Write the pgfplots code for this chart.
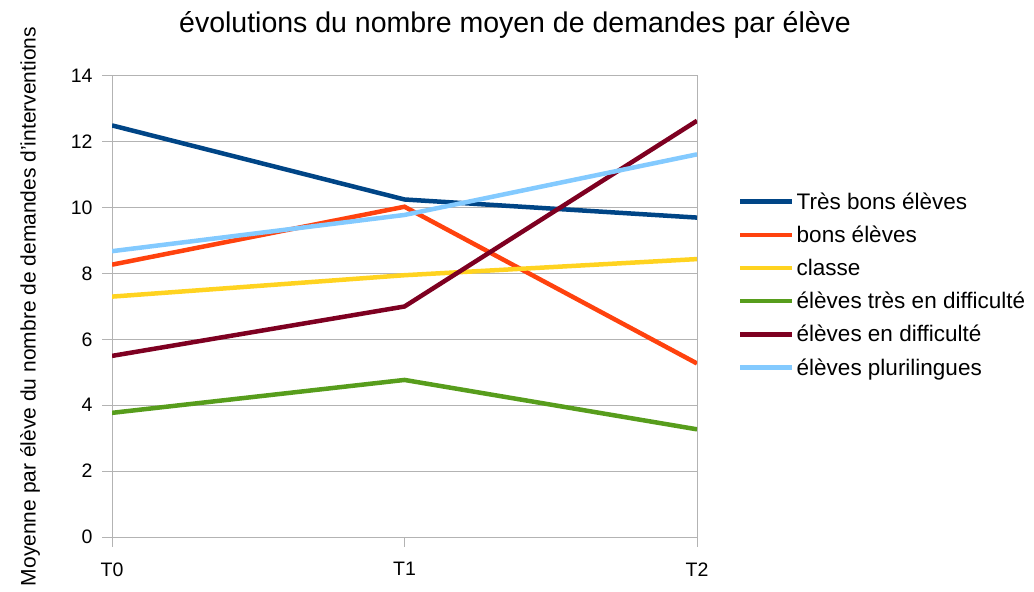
\documentclass[border=0pt]{standalone}
\usepackage{pgfplots}
\pgfplotsset{compat=1.18}
\usepackage{fontspec}
\setmainfont{Liberation Sans}
\definecolor{cblue}{HTML}{004586}
\definecolor{corange}{HTML}{FF420E}
\definecolor{cyellow}{HTML}{FFD320}
\definecolor{cgreen}{HTML}{579D1C}
\definecolor{cred}{HTML}{7E0021}
\definecolor{clight}{HTML}{83CAFF}
\definecolor{gridgray}{HTML}{B3B3B3}
\begin{document}
\begin{tikzpicture}[x=1pt,y=1pt]
\path[use as bounding box] (0,0) rectangle (1034,592);
\begin{axis}[
  at={(112pt,55pt)}, anchor=south west,
  scale only axis, width=585pt, height=461pt,
  xmin=0, xmax=2, ymin=0, ymax=14,
  xtick={0,1,2}, xticklabels={T0,T1,T2},
  ytick={0,2,...,14},
  ymajorgrids,
  grid style={color=gridgray, line width=1pt},
  axis line style={gridgray, line width=1pt},
  tick style={gridgray, line width=1pt},
  tick align=outside, major tick length=10pt,
  xtick pos=bottom, ytick pos=left,
  ticklabel style={font=\fontsize{19.5}{19.5}\selectfont, text=black},
  yticklabel style={xshift=-6pt},
  xticklabel style={yshift=-12pt},
  /pgf/number format/assume math mode=true,
  title={évolutions du nombre moyen de demandes par élève},
  title style={at={(0.689,1)}, anchor=south, yshift=28pt, font=\fontsize{28.5}{28.5}\selectfont},
  ylabel={Moyenne par élève du nombre de demandes d'interventions},
  ylabel style={at={(axis description cs:-0.140,0.5)}, anchor=center, font=\fontsize{21}{21}\selectfont},
  legend style={at={(1.065,0.7565)}, anchor=north west, draw=none, fill=none,
    font=\fontsize{22.5}{22.5}\selectfont, row sep=11.2pt},
  legend cell align=left,
  legend image code/.code={\draw[#1] (0pt,0pt) -- (52pt,0pt);},
  every axis plot/.append style={line width=4.5pt},
]
\addplot[cblue] coordinates {(0,12.5) (1,10.25) (2,9.7)};
\addlegendentry{Très bons élèves}
\addplot[corange] coordinates {(0,8.27) (1,10.03) (2,5.27)};
\addlegendentry{bons élèves}
\addplot[cyellow] coordinates {(0,7.3) (1,7.95) (2,8.44)};
\addlegendentry{classe}
\addplot[cgreen] coordinates {(0,3.77) (1,4.77) (2,3.27)};
\addlegendentry{élèves très en difficulté}
\addplot[cred] coordinates {(0,5.5) (1,7.0) (2,12.64)};
\addlegendentry{élèves en difficulté}
\addplot[clight] coordinates {(0,8.68) (1,9.78) (2,11.62)};
\addlegendentry{élèves plurilingues}
\end{axis}
\end{tikzpicture}
\end{document}
